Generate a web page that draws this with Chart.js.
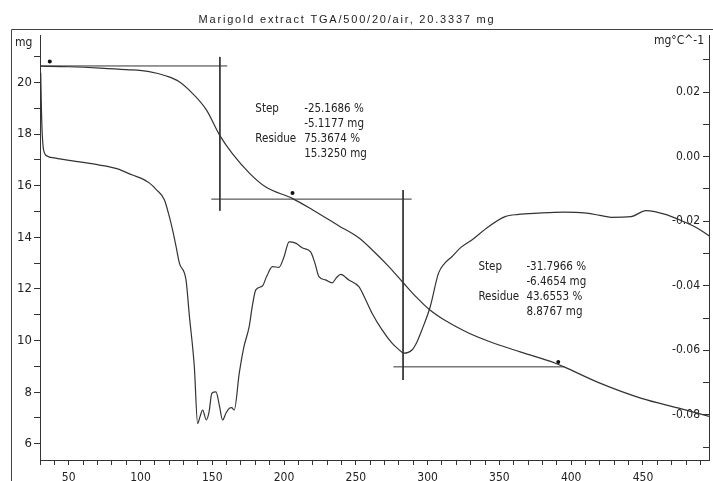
<!DOCTYPE html>
<html>
<head>
<meta charset="utf-8">
<script src="https://cdn.jsdelivr.net/npm/chart.js@4.4.1/dist/chart.umd.min.js"></script>
<style>
  body { margin: 0; background: #fff; }
</style>
</head>
<body>
<canvas id="tga" width="713" height="481"></canvas>
<script>
// TGA weight curve (°C, mg) - left axis
const tgaTemp = [30, 50, 72, 90, 106, 118, 127, 136, 146, 155, 164, 176, 187, 206, 220, 238, 252, 262, 272, 283, 292, 301, 310, 319, 330, 342, 365, 389, 395, 420, 449, 475, 497];
const tgaMass = [20.63, 20.61, 20.56, 20.5, 20.42, 20.25, 20.03, 19.59, 18.93, 17.97, 17.24, 16.48, 15.96, 15.5, 15.06, 14.45, 13.98, 13.48, 12.92, 12.24, 11.69, 11.21, 10.85, 10.56, 10.25, 9.98, 9.55, 9.12, 8.98, 8.35, 7.76, 7.38, 7.05];

// DTG curve (°C, mg/°C) - right axis
const dtgTemp = [30.5, 31, 31.6, 32.5, 35, 40, 48, 60, 71.5, 84, 94.4, 101, 106.3, 111, 116.7, 120.1, 122.5, 124.8, 127.1, 131.7, 134, 137.5, 139.8, 141.5, 143.3, 145.8, 147.8, 149.7, 152.6, 154.9, 157.2, 159.5, 161.8, 163.5, 165.3, 168.8, 172, 175.7, 178, 180.3, 184.9, 188, 191.9, 196.5, 200, 203.5, 208.1, 213, 218.5, 221.5, 224.3, 228.9, 233.5, 236.5, 239.4, 245.1, 252.1, 256.5, 261.3, 268.3, 275.2, 280, 283.3, 289.1, 292.5, 296, 301.8, 307.6, 312, 316.9, 323, 330.8, 342.4, 354, 363.2, 377.1, 395, 409.2, 420, 427.8, 441.7, 452.1, 467.2, 478.7, 488, 497];
const dtgRate = [0.026, 0.0145, 0.0067, 0.0021, 0.0002, -0.0004, -0.001, -0.0018, -0.0026, -0.0038, -0.0057, -0.0068, -0.0082, -0.0102, -0.0134, -0.0186, -0.023, -0.0279, -0.033, -0.0382, -0.0491, -0.0651, -0.0827, -0.0805, -0.0785, -0.0816, -0.079, -0.0733, -0.0729, -0.077, -0.0816, -0.0795, -0.078, -0.0778, -0.0785, -0.0671, -0.059, -0.0527, -0.046, -0.0413, -0.0401, -0.037, -0.0341, -0.0343, -0.031, -0.0264, -0.0268, -0.0283, -0.0295, -0.033, -0.0372, -0.0382, -0.0391, -0.0375, -0.0365, -0.0382, -0.0403, -0.044, -0.0485, -0.0537, -0.0578, -0.0598, -0.0609, -0.0599, -0.0575, -0.0537, -0.0465, -0.0361, -0.033, -0.031, -0.0282, -0.0258, -0.0217, -0.0186, -0.0179, -0.0175, -0.0172, -0.0174, -0.0182, -0.0188, -0.0186, -0.0167, -0.0181, -0.0202, -0.0222, -0.0248];

// step construction lines, one pair of end points per segment
const constructT = [[30, 160.4], [155.3, 155.3], [149.3, 288.9], [282.9, 282.9], [276.2, 395.3]];
const constructM = [[20.64, 20.64], [20.99, 15.03], [15.48, 15.48], [15.83, 8.47], [8.98, 8.98]];

// limit markers
const markerT = [36.8, 205.9, 391];
const markerM = [20.81, 15.72, 9.17];

// step evaluation texts
const stepValues = [
  ['-25.1686 %', '-5.1177 mg', '75.3674 %', '15.3250 mg'],
  ['-31.7966 %', '-6.4654 mg', '43.6553 %', '8.8767 mg']
];
const stepLabelT = [180, 335.4];
const stepValueT = [214, 368.8];
const stepTopM = [18.97, 12.86];

const xTicks = [50, 100, 150, 200, 250, 300, 350, 400, 450];

const ink = '#333';
const narrow = "'DejaVu Sans Condensed', Arial, sans-serif";

const pairs = (xs, ys) => xs.map((x, i) => ({x: x, y: ys[i]}));

const datasets = [
  {data: pairs(tgaTemp, tgaMass), yAxisID: 'y', borderColor: ink, borderWidth: 1.2,
   pointRadius: 0, cubicInterpolationMode: 'monotone'},
  {data: pairs(dtgTemp, dtgRate), yAxisID: 'y2', borderColor: ink, borderWidth: 1.2,
   pointRadius: 0, cubicInterpolationMode: 'monotone'}
];
constructT.forEach((t, i) => {
  datasets.push({data: pairs(t, constructM[i]), yAxisID: 'y', borderColor: ink,
    borderWidth: 1, pointRadius: 0, tension: 0});
});
datasets.push({data: pairs(markerT, markerM), yAxisID: 'y', showLine: false,
  pointRadius: 2, pointBackgroundColor: '#111', pointBorderWidth: 0});

const decor = {
  id: 'decor',
  beforeDraw(chart) {
    const c = chart.ctx;
    c.save();
    c.strokeStyle = '#444';
    c.lineWidth = 1;
    c.beginPath();
    c.moveTo(11.5, 481);
    c.lineTo(11.5, 29.5);
    c.lineTo(713, 29.5);
    c.stroke();
    c.fillStyle = '#222';
    c.font = '11px "Liberation Sans", Arial, sans-serif';
    c.letterSpacing = '1.8px';
    c.textAlign = 'center';
    c.textBaseline = 'alphabetic';
    c.fillText('Marigold extract TGA/500/20/air, 20.3337 mg', 347, 22.5);
    c.letterSpacing = '0px';
    c.font = '12px ' + narrow;
    c.textBaseline = 'middle';
    c.textAlign = 'left';
    c.fillText('mg', 15, 43);
    c.textAlign = 'right';
    c.fillText('mg°C^-1', 704, 41);
    c.restore();
  },
  afterDatasetsDraw(chart) {
    const c = chart.ctx;
    const sx = chart.scales.x, sy = chart.scales.y;
    c.save();
    c.fillStyle = '#222';
    c.font = '11.5px ' + narrow;
    c.textBaseline = 'middle';
    c.textAlign = 'left';
    stepValues.forEach((vals, i) => {
      const x0 = sx.getPixelForValue(stepLabelT[i]);
      const x1 = sx.getPixelForValue(stepValueT[i]);
      const y0 = sy.getPixelForValue(stepTopM[i]);
      c.fillText('Step', x0, y0);
      c.fillText('Residue', x0, y0 + 30);
      vals.forEach((v, k) => c.fillText(v, x1, y0 + k * 15));
    });
    c.restore();
  }
};

new Chart(document.getElementById('tga'), {
  type: 'line',
  data: {datasets: datasets},
  options: {
    responsive: false,
    animation: false,
    devicePixelRatio: 1,
    layout: {padding: {top: 35, left: 0, right: 0, bottom: 0}},
    plugins: {legend: {display: false}, tooltip: {enabled: false}},
    scales: {
      x: {
        type: 'linear', min: 30, max: 496,
        grid: {display: true, drawOnChartArea: false, color: ink, tickLength: 5},
        border: {display: true, color: ink, width: 1},
        ticks: {
          stepSize: 10, includeBounds: false, autoSkip: false, maxRotation: 0,
          padding: 6, color: '#222', font: {family: narrow, size: 12},
          callback: v => (xTicks.includes(v) ? String(v) : '')
        },
        afterFit: s => { s.height = 21; }
      },
      y: {
        position: 'left', min: 5.37, max: 21.84,
        grid: {display: true, drawOnChartArea: false, color: ink, tickLength: 6},
        border: {display: true, color: ink, width: 1},
        ticks: {
          stepSize: 1, includeBounds: false, autoSkip: false, padding: 2,
          color: '#222', font: {family: narrow, size: 13},
          callback: v => (v % 2 === 0 ? String(v) : '')
        },
        afterFit: s => { s.width = 40; }
      },
      y2: {
        position: 'right', min: -0.094, max: 0.0377,
        grid: {display: true, drawOnChartArea: false, color: ink, tickLength: -6},
        border: {display: true, color: ink, width: 1},
        ticks: {
          stepSize: 0.01, includeBounds: false, autoSkip: false, mirror: true, padding: -9,
          color: '#222', font: {family: narrow, size: 12},
          callback: v => {
            const k = Math.round(v * 100);
            return k % 2 === 0 ? (k / 100).toFixed(2) : '';
          }
        },
        afterFit: s => { s.width = 2; }
      }
    }
  },
  plugins: [decor]
});
</script>
</body>
</html>
